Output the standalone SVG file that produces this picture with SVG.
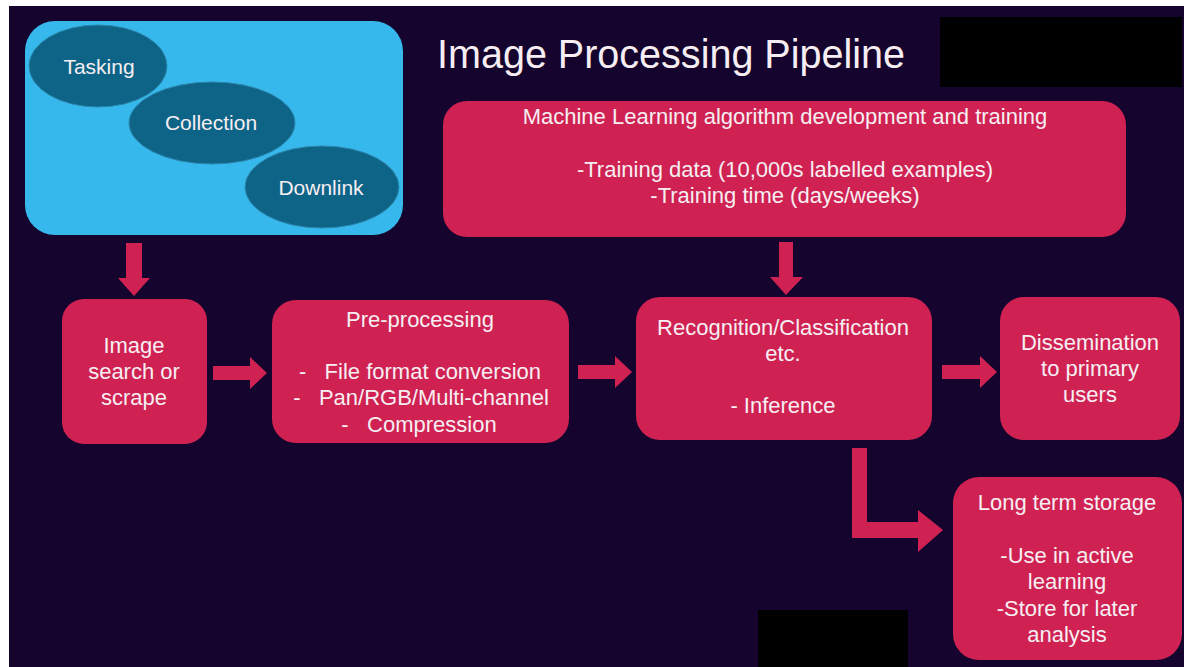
<svg xmlns="http://www.w3.org/2000/svg" width="1184" height="667" viewBox="0 0 1184 667">
  <defs>
    <style>
      .bg { fill: #15042d; }
      .box { fill: #cf2252; }
      .sky { fill: #37b8ec; }
      .oval { fill: #0e6487; stroke: #2a86ab; stroke-width: 1; }
      .arrow { fill: #cf2252; }
      .mask { fill: #000000; }
      text { font-family: "Liberation Sans", Arial, sans-serif; fill: #f6eef2; }
      .t { font-size: 22px; text-anchor: middle; white-space: pre; }
      .o { font-size: 21px; text-anchor: middle; }
      .title { font-size: 40px; }
    </style>
  </defs>

  <!-- page -->
  <rect x="0" y="0" width="1184" height="667" fill="#ffffff"/>
  <rect class="bg" x="9" y="6" width="1175" height="661"/>

  <!-- redaction blocks -->
  <rect class="mask" x="940" y="17" width="242" height="70"/>
  <rect class="mask" x="758" y="610" width="150" height="57"/>

  <text class="title" x="437" y="68" textLength="468" lengthAdjust="spacingAndGlyphs">Image Processing Pipeline</text>

  <!-- acquisition stage -->
  <g id="acquisition">
    <rect class="sky" x="25" y="21" width="378" height="214" rx="30"/>
    <g id="tasking">
      <ellipse class="oval" cx="98" cy="66" rx="69" ry="41"/>
      <text class="o" x="99" y="74">Tasking</text>
    </g>
    <g id="collection">
      <ellipse class="oval" cx="212" cy="123" rx="83" ry="41"/>
      <text class="o" x="211" y="130">Collection</text>
    </g>
    <g id="downlink">
      <ellipse class="oval" cx="322" cy="187" rx="77" ry="41"/>
      <text class="o" x="321" y="195">Downlink</text>
    </g>
  </g>

  <g id="ml-training">
    <rect class="box" x="443" y="101" width="683" height="136" rx="24"/>
    <text class="t" x="785" y="124">Machine Learning algorithm development and training</text>
    <text class="t" x="785" y="177">-Training data (10,000s labelled examples)</text>
    <text class="t" x="785" y="203">-Training time (days/weeks)</text>
  </g>

  <g id="image-search">
    <rect class="box" x="62" y="299" width="145" height="145" rx="22"/>
    <text class="t" x="134" y="353">Image</text>
    <text class="t" x="134" y="379">search or</text>
    <text class="t" x="134" y="405">scrape</text>
  </g>

  <g id="pre-processing">
    <rect class="box" x="272" y="300" width="297" height="143" rx="24"/>
    <text class="t" x="420" y="327">Pre-processing</text>
    <text class="t" x="420" y="379">-   File format conversion</text>
    <text class="t" x="421" y="405">-   Pan/RGB/Multi-channel</text>
    <text class="t" x="419" y="432">-   Compression</text>
  </g>

  <g id="recognition">
    <rect class="box" x="636" y="297" width="296" height="143" rx="24"/>
    <text class="t" x="783" y="335">Recognition/Classification</text>
    <text class="t" x="783" y="361">etc.</text>
    <text class="t" x="783" y="413">- Inference</text>
  </g>

  <g id="dissemination">
    <rect class="box" x="1000" y="297" width="180" height="143" rx="24"/>
    <text class="t" x="1090" y="350">Dissemination</text>
    <text class="t" x="1090" y="376">to primary</text>
    <text class="t" x="1090" y="402">users</text>
  </g>

  <g id="long-term-storage">
    <rect class="box" x="953" y="477" width="229" height="183" rx="26"/>
    <text class="t" x="1067" y="510">Long term storage</text>
    <text class="t" x="1067" y="563">-Use in active</text>
    <text class="t" x="1067" y="589">learning</text>
    <text class="t" x="1067" y="616">-Store for later</text>
    <text class="t" x="1067" y="642">analysis</text>
  </g>

  <!-- block arrows between stages -->
  <g id="connectors">
    <polygon class="arrow" points="126,243 142,243 142,278 150,278 134,296 118,278 126,278"/>
    <polygon class="arrow" points="779,242 793,242 793,277 803,277 786,295 770,277 779,277"/>
    <polygon class="arrow" points="213,366 250,366 250,357 267,373 250,389 250,380 213,380"/>
    <polygon class="arrow" points="578,365 615,365 615,356 632,372 615,388 615,379 578,379"/>
    <polygon class="arrow" points="942,365 980,365 980,356 997,372 980,388 980,379 942,379"/>
    <polygon class="arrow" points="852,448 867,448 867,522 918,522 918,510 943,530 918,552 918,538 852,538"/>
  </g>
</svg>
